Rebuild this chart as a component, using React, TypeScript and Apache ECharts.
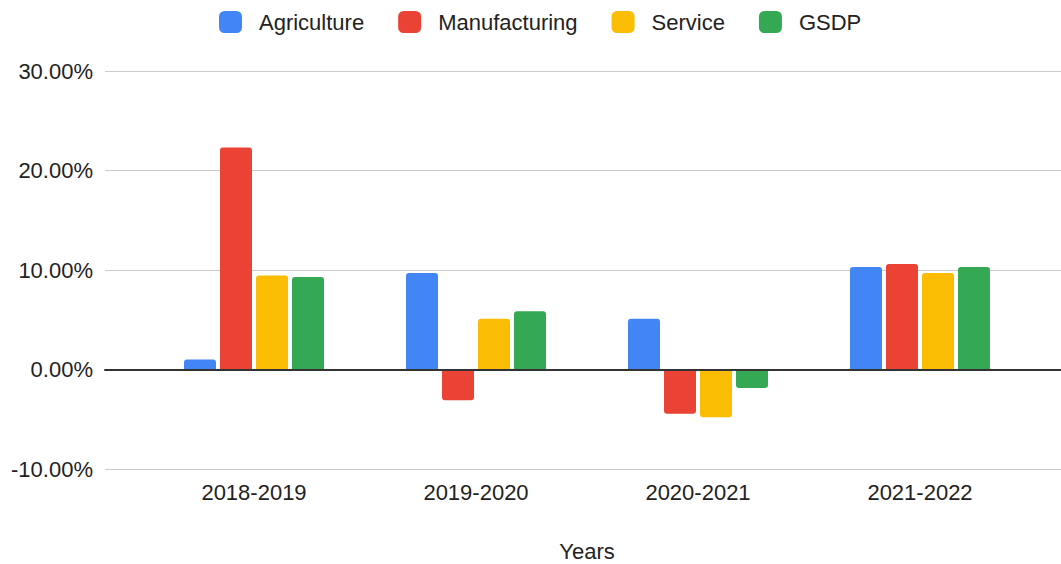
import React, { useEffect, useRef } from "react";
import * as echarts from "echarts";

const categories = ["2018-2019", "2019-2020", "2020-2021", "2021-2022"];
const agriculture = [1.0, 9.7, 5.1, 10.3];
const manufacturing = [22.3, -3.1, -4.45, 10.6];
const service = [9.45, 5.1, -4.8, 9.7];
const gsdp = [9.3, 5.85, -1.85, 10.3];
const seriesNames = ["Agriculture", "Manufacturing", "Service", "GSDP"];
const colors = ["#4285F4", "#EA4335", "#FBBC04", "#34A853"];
const yTicks = { min: -10, max: 30, interval: 10 };

const FONT = "'Liberation Sans', Arial, sans-serif";

export default function App() {
  const ref = useRef<HTMLDivElement>(null);
  useEffect(() => {
    if (!ref.current) return;
    const chart = echarts.init(ref.current, undefined, { renderer: "svg" });
    const allData = [agriculture, manufacturing, service, gsdp];
    const mk = (vals: number[]) =>
      vals.map((v) => ({
        value: v,
        itemStyle: { borderRadius: v >= 0 ? [3, 3, 0, 0] : [0, 0, 3, 3] },
      }));
    chart.setOption({
      animation: false,
      textStyle: { fontFamily: FONT },
      legend: {
        top: 6,
        left: 214,
        icon: "roundRect",
        itemWidth: 23,
        itemHeight: 22,
        itemGap: 34,
        data: seriesNames,
        textStyle: { fontSize: 22, color: "#222", fontFamily: FONT, padding: [0, 0, 0, 12] },
      },
      grid: [
        { left: 105, right: 0, top: 71, bottom: 95, outerBoundsMode: "none" },
        { left: 143, right: 30, top: 71, bottom: 95, outerBoundsMode: "none" },
      ],
      xAxis: [
        {
          type: "category",
          gridIndex: 0,
          data: [""],
          z: 5,
          axisLine: { onZero: true, lineStyle: { color: "#333", width: 2 } },
          axisTick: { show: false },
          axisLabel: { show: false },
          splitLine: { show: false },
        },
        {
          type: "category",
          gridIndex: 1,
          data: categories,
          axisLine: { show: false, onZero: false },
          axisTick: { show: false },
          axisLabel: { fontSize: 22, color: "#222", margin: 12, fontFamily: FONT },
          name: "Years",
          nameLocation: "middle",
          nameGap: 71,
          nameTextStyle: { fontSize: 22, color: "#222", fontFamily: FONT },
        },
      ],
      yAxis: [
        {
          type: "value",
          gridIndex: 0,
          min: yTicks.min,
          max: yTicks.max,
          interval: yTicks.interval,
          axisLine: { show: false },
          axisTick: { show: false },
          axisLabel: {
            fontSize: 22,
            color: "#222",
            margin: 12,
            fontFamily: FONT,
            formatter: (v: number) => v.toFixed(2) + "%",
          },
          splitLine: { lineStyle: { color: "#cccccc", width: 1 } },
        },
        {
          type: "value",
          gridIndex: 1,
          min: yTicks.min,
          max: yTicks.max,
          interval: yTicks.interval,
          show: false,
          splitLine: { show: false },
        },
      ],
      series: seriesNames.map((name, i) => ({
        name,
        type: "bar",
        xAxisIndex: 1,
        yAxisIndex: 1,
        barWidth: 32,
        barGap: "12.5%",
        itemStyle: { color: colors[i] },
        data: mk(allData[i]),
      })),
    });
    return () => chart.dispose();
  }, []);
  return (
    <div
      ref={ref}
      style={{ position: "absolute", left: 0, top: 0, width: 1061, height: 564 }}
    />
  );
}
